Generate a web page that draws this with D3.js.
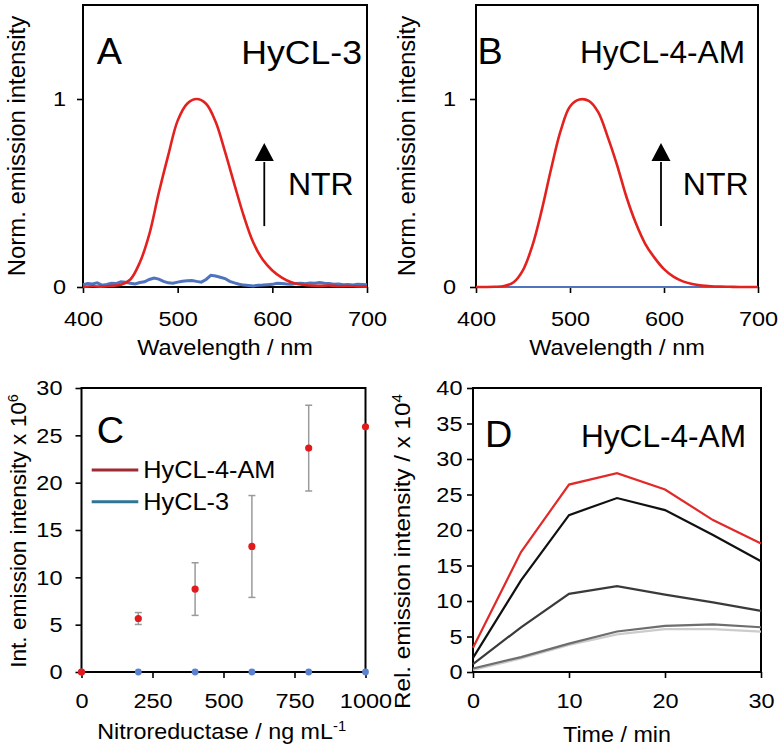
<!DOCTYPE html>
<html><head><meta charset="utf-8">
<script src="https://cdn.jsdelivr.net/npm/d3@7"></script>
<style>
body{margin:0;background:#fff;}
svg{display:block;font-family:"Liberation Sans",Arial,Helvetica,sans-serif;}
</style></head><body>
<svg id="c" width="780" height="750"></svg>
<script>
// ---------- DATA ----------
const wavelengths10 = [400,410,420,430,440,450,460,470,480,490,500,510,520,530,540,550,560,570,580,590,600,610,620,630,640,650,660,670,680,690,700];
const wavelengths5 = [400,405,410,415,420,425,430,435,440,445,450,455,460,465,470,475,480,485,490,495,500,505,510,515,520,525,530,535,540,545,550,555,560,565,570,575,580,585,590,595,600,605,610,615,620,625,630,635,640,645,650,655,660,665,670,675,680,685,690,695,700];
// Panel A: HyCL-3
const hycl3_withNTR = [0,0.004,0.002,0.006,0.012,0.04,0.13,0.28,0.50,0.70,0.885,0.975,1.0,0.975,0.88,0.72,0.545,0.375,0.235,0.145,0.088,0.05,0.025,0.013,0.008,0.006,0.008,0.004,0.005,0.003,0.002];
const hycl3_noNTR = [0.012,0.018,0.016,0.022,0.010,0.014,0.020,0.018,0.028,0.025,0.020,0.016,0.024,0.028,0.040,0.048,0.042,0.030,0.022,0.020,0.026,0.030,0.033,0.035,0.030,0.026,0.040,0.062,0.058,0.052,0.045,0.030,0.022,0.015,0.010,0.008,0.006,0.009,0.010,0.012,0.014,0.020,0.018,0.016,0.015,0.018,0.020,0.017,0.021,0.020,0.024,0.020,0.018,0.015,0.016,0.012,0.013,0.011,0.014,0.013,0.012];
// Panel B: HyCL-4-AM
const hycl4am_withNTR = [0,0,0.001,0.005,0.025,0.09,0.22,0.41,0.63,0.83,0.96,0.997,0.99,0.93,0.80,0.65,0.48,0.34,0.23,0.155,0.095,0.055,0.03,0.016,0.008,0.004,0.002,0.001,0,0,0];
const hycl4am_noNTR = [0,0,0,0,0,0,0,0,0,0,0,0,0,0,0,0,0,0,0,0,0,0,0,0,0,0,0,0,0,0,0];
// Panel C
const ntrConc = [0,200,400,600,800,1000];
const intHyCL4AM = [0,5.65,8.76,13.26,23.65,25.9];
const errHyCL4AM = [0,0.63,2.78,5.38,4.53,0];
const intHyCL3 = [0,0,0,0,0,0];
const legendC = ["HyCL-4-AM","HyCL-3"];
// Panel D
const timeMin = [0,5,10,15,20,25,30];
const dSeries = [
  [3.4,16.9,26.4,28.0,25.7,21.4,18.1],
  [2.0,12.9,22.1,24.5,22.8,19.3,15.6],
  [1.1,6.3,11.0,12.1,10.9,9.8,8.6],
  [0.5,2.1,4.0,5.7,6.5,6.7,6.3],
  [0.3,1.9,3.8,5.3,6.05,6.05,5.7]
];
const dColors = ["#e02a2a","#111111","#3a3a3a","#6e6e6e","#cccccc"];
// ticks
const ticksWl = [400,500,600,700];
const ticksNorm = [0,1];
const ticksConc = [0,250,500,750,1000];
const ticksInt = [0,5,10,15,20,25,30];
const ticksTime = [0,10,20,30];
const ticksRel = [0,5,10,15,20,25,30,35,40];

// ---------- DRAW ----------
const svg = d3.select("#c");
const RED = "#e3211f", BLUE = "#4f73bd";

function stext(parent, x, y, str, size, anchor, sx, rot) {
  return parent.append("text")
    .attr("transform", `translate(${x},${y})` + (rot ? ` rotate(${rot})` : "") + ` scale(${sx || 1},1)`)
    .attr("font-size", size).attr("text-anchor", anchor || "start").attr("fill", "#000")
    .text(str);
}

function makePanel(o) {
  const x = d3.scaleLinear().domain(o.xd).range([o.l, o.r]);
  const y = d3.scaleLinear().domain(o.yd).range([o.b, o.t]);
  const g = svg.append("g");
  g.append("rect").attr("x", o.l).attr("y", o.t).attr("width", o.r - o.l).attr("height", o.b - o.t)
    .attr("fill", "none").attr("stroke", "#000").attr("stroke-width", 2);
  const ax = g.append("g").attr("transform", `translate(0,${o.b})`)
    .call(d3.axisBottom(x).tickValues(o.xt).tickSize(6).tickSizeOuter(0).tickFormat(d3.format("d")));
  ax.attr("font-family", null).attr("font-size", 21);
  ax.select(".domain").remove();
  ax.selectAll("line").attr("stroke", "#000").attr("stroke-width", 1.6);
  ax.selectAll("text").attr("y", 0).attr("dy", 0).attr("fill", "#000")
    .attr("transform", `translate(0,${o.xoff}) scale(1.12,1)`);
  const ay = g.append("g").attr("transform", `translate(${o.l},0)`)
    .call(d3.axisLeft(y).tickValues(o.yt).tickSize(6).tickSizeOuter(0).tickFormat(d3.format("d")));
  ay.attr("font-family", null).attr("font-size", 21);
  ay.select(".domain").remove();
  ay.selectAll("line").attr("stroke", "#000").attr("stroke-width", 1.6);
  ay.selectAll("text").attr("x", 0).attr("fill", "#000")
    .attr("transform", `translate(${-o.yoff},0) scale(1.12,1)`);
  return { g, x, y };
}

function arrow(g, x, y, wl, top, base, bottom) {
  const cx = x(wl);
  g.append("line").attr("x1", cx).attr("x2", cx).attr("y1", y(bottom)).attr("y2", y(base) + 1)
    .attr("stroke", "#000").attr("stroke-width", 1.8);
  const p = d3.path();
  p.moveTo(cx, y(top)); p.lineTo(cx - 9.5, y(base)); p.lineTo(cx + 9.5, y(base)); p.closePath();
  g.append("path").attr("d", p.toString()).attr("fill", "#000");
}

// ---- Panel A ----
{
  const P = makePanel({ l: 83, r: 367, t: 5, b: 287, xd: [400, 700], yd: [0, 1.5], xt: ticksWl, yt: ticksNorm, xoff: 39, yoff: 17 });
  const lineR = d3.line().x((d, i) => P.x(wavelengths10[i])).y(d => P.y(d)).curve(d3.curveCatmullRom);
  const lineB = d3.line().x((d, i) => P.x(wavelengths5[i])).y(d => P.y(d));
  P.g.append("path").attr("d", lineB(hycl3_noNTR)).attr("fill", "none").attr("stroke", BLUE).attr("stroke-width", 3);
  P.g.append("path").attr("d", lineR(hycl3_withNTR)).attr("fill", "none").attr("stroke", RED).attr("stroke-width", 2.6);
  arrow(P.g, P.x, P.y, 591.5, 0.766, 0.67, 0.324);
  stext(P.g, P.x(616.5), P.y(0.489), "NTR", 32, "start", 1.0);
  stext(P.g, 96.7, 64, "A", 36, "start", 1.05);
  stext(P.g, 362, 63.5, "HyCL-3", 33, "end", 1.08);
  stext(P.g, 225, 355, "Wavelength / nm", 22, "middle", 1.07);
  stext(P.g, 25, 146, "Norm. emission intensity", 23, "middle", 1.04, -90);
}
// ---- Panel B ----
{
  const P = makePanel({ l: 476, r: 758, t: 5, b: 287, xd: [400, 700], yd: [0, 1.5], xt: ticksWl, yt: ticksNorm, xoff: 39, yoff: 20 });
  const lineR = d3.line().x((d, i) => P.x(wavelengths10[i])).y(d => P.y(d)).curve(d3.curveCatmullRom);
  P.g.append("path").attr("d", lineR(hycl4am_noNTR)).attr("fill", "none").attr("stroke", BLUE).attr("stroke-width", 2);
  P.g.append("path").attr("d", lineR(hycl4am_withNTR)).attr("fill", "none").attr("stroke", RED).attr("stroke-width", 2.6);
  arrow(P.g, P.x, P.y, 596.8, 0.766, 0.67, 0.324);
  stext(P.g, P.x(620), P.y(0.489), "NTR", 32, "start", 1.0);
  stext(P.g, 477.5, 63.5, "B", 36, "start", 1.05);
  stext(P.g, 745, 63, "HyCL-4-AM", 31, "end", 1.02);
  stext(P.g, 617, 355, "Wavelength / nm", 22, "middle", 1.07);
  stext(P.g, 415, 146, "Norm. emission intensity", 23, "middle", 1.04, -90);
}
// ---- Panel C ----
{
  const P = makePanel({ l: 81.5, r: 365.5, t: 388, b: 672, xd: [0, 1000], yd: [0, 30], xt: ticksConc, yt: ticksInt, xoff: 36, yoff: 19 });
  // error bars
  ntrConc.forEach((c, i) => {
    const e = errHyCL4AM[i];
    if (e > 0) {
      const cx = P.x(c), y1 = P.y(intHyCL4AM[i] - e), y2 = P.y(intHyCL4AM[i] + e);
      P.g.append("line").attr("x1", cx).attr("x2", cx).attr("y1", y1).attr("y2", y2).attr("stroke", "#9a9a9a").attr("stroke-width", 1.5);
      P.g.append("line").attr("x1", cx - 3.5).attr("x2", cx + 3.5).attr("y1", y1).attr("y2", y1).attr("stroke", "#9a9a9a").attr("stroke-width", 1.5);
      P.g.append("line").attr("x1", cx - 3.5).attr("x2", cx + 3.5).attr("y1", y2).attr("y2", y2).attr("stroke", "#9a9a9a").attr("stroke-width", 1.5);
    }
  });
  P.g.selectAll(".b3").data(intHyCL3).enter().append("circle")
    .attr("cx", (d, i) => P.x(ntrConc[i])).attr("cy", d => P.y(d)).attr("r", 3.4).attr("fill", "#5b82d0");
  P.g.selectAll(".r4").data(intHyCL4AM).enter().append("circle")
    .attr("cx", (d, i) => P.x(ntrConc[i])).attr("cy", d => P.y(d)).attr("r", 3.6).attr("fill", "#e31a1c");
  // legend
  const lc = ["#9e2a33", "#2f7694"];
  legendC.forEach((name, i) => {
    const ly = 470 + i * 31.7;
    P.g.append("line").attr("x1", 91.7).attr("x2", 138.3).attr("y1", ly).attr("y2", ly).attr("stroke", lc[i]).attr("stroke-width", 3);
    stext(P.g, 143.3, ly + 8.3, name, 23, "start", 1.1);
  });
  stext(P.g, 96.7, 443.3, "C", 36, "start", 1.05);
  const xt = stext(P.g, 221.7, 739, "Nitroreductase / ng mL", 22, "middle", 1.06);
  xt.append("tspan").attr("dy", -8).attr("font-size", 14).text("-1");
  const yt = stext(P.g, 26, 531, "Int. emission intensity x 10", 22, "middle", 1.03, -90);
  yt.append("tspan").attr("dy", -8).attr("font-size", 14).text("6");
}
// ---- Panel D ----
{
  const P = makePanel({ l: 473, r: 761, t: 388, b: 672, xd: [0, 30], yd: [0, 40], xt: ticksTime, yt: ticksRel, xoff: 36, yoff: 10.5 });
  const line = d3.line().x((d, i) => P.x(timeMin[i])).y(d => P.y(d));
  dSeries.slice().reverse().forEach((s, k) => {
    const i = dSeries.length - 1 - k;
    P.g.append("path").attr("d", line(s)).attr("fill", "none").attr("stroke", dColors[i]).attr("stroke-width", 2.2);
  });
  stext(P.g, 485, 446.7, "D", 36, "start", 1.05);
  stext(P.g, 746, 446.7, "HyCL-4-AM", 31, "end", 1.02);
  stext(P.g, 617, 741.7, "Time / min", 22, "middle", 1.06);
  const yt = stext(P.g, 410, 551.5, "Rel. emission intensity / x 10", 22, "middle", 1.1, -90);
  yt.append("tspan").attr("dy", -8).attr("font-size", 14).text("4");
}
</script>
</body></html>
